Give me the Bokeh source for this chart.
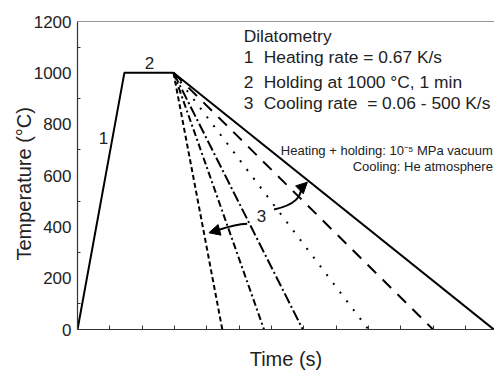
from bokeh.plotting import figure
from bokeh.models import Range1d, FixedTicker, Label, Span, Arrow, NormalHead, CustomJSTickFormatter
from bokeh.embed import file_html
from bokeh.resources import INLINE

# ---- data (time in arbitrary tick units, temperature in °C) ----
heat_hold_x = [0, 1.45, 2.97]
heat_hold_y = [0, 1000, 1000]
cool_start_x = 2.97
cool_start_y = 1000
cool_end_x = [4.48, 5.77, 6.97, 9.0, 11.0, 12.88]
cool_end_y = [0, 0, 0, 0, 0, 0]
cool_dash = ["5 3", "7 3 2 3", "11 3 2 3", "2 9", "12 9", "solid"]
y_ticks = [0, 200, 400, 600, 800, 1000, 1200]
x_ticks = list(range(0, 14))

legend_title = "Dilatometry"
legend_nums = ["1", "2", "3"]
legend_texts = ["Heating rate = 0.67 K/s", "Holding at 1000 \u00b0C, 1 min", "Cooling rate \u00a0= 0.06 - 500 K/s"]
note_texts = ["Heating + holding: 10\u207b\u2075 MPa vacuum", "Cooling: He atmosphere"]

FONT = "Liberation Sans"
TXT = "#222222"

p = figure(width=494, height=372, output_backend="svg", toolbar_location=None,
           x_range=Range1d(0, 12.9), y_range=Range1d(0, 1200),
           min_border_left=77, min_border_right=0, min_border_top=21, min_border_bottom=43)
p.outline_line_color = None
p.grid.grid_line_color = None
p.background_fill_color = "white"
p.border_fill_color = "white"

# axes
ya = p.yaxis[0]
ya.ticker = FixedTicker(ticks=y_ticks, minor_ticks=[100, 300, 500, 700, 900, 1100])
ya.major_tick_in = 0
ya.major_tick_out = 0
ya.minor_tick_in = 3
ya.minor_tick_out = 0
ya.major_label_standoff = 6
ya.major_label_text_font = FONT
ya.major_label_text_font_size = "17px"
ya.major_label_text_color = TXT
ya.axis_line_color = "#333333"
ya.axis_line_width = 1.2
ya.minor_tick_line_color = "#333333"
ya.axis_label = "Temperature (\u00b0C)\u00a0\u00a0\u00a0"
ya.axis_label_text_font = FONT
ya.axis_label_text_font_size = "20px"
ya.axis_label_text_font_style = "normal"
ya.axis_label_text_color = TXT
ya.axis_label_standoff = -4

xa = p.xaxis[0]
xa.ticker = FixedTicker(ticks=x_ticks)
xa.formatter = CustomJSTickFormatter(code="return ''")
xa.major_tick_in = 4
xa.major_tick_out = 0
xa.minor_tick_in = 0
xa.minor_tick_out = 0
xa.major_label_standoff = 0
xa.axis_line_color = "#333333"
xa.axis_line_width = 1.2
xa.major_tick_line_color = "#333333"
xa.axis_label = "Time (s)"
xa.axis_label_text_font = FONT
xa.axis_label_text_font_size = "20px"
xa.axis_label_text_font_style = "normal"
xa.axis_label_text_color = TXT
xa.axis_label_standoff = 18

p.add_layout(Span(location=1200, dimension="width", line_color="#333333", line_width=1.2))

# curves
p.line(heat_hold_x, heat_hold_y, line_color="black", line_width=2)
for ex, ey, d in zip(cool_end_x, cool_end_y, cool_dash):
    p.line([cool_start_x, ex], [cool_start_y, ey], line_color="black", line_width=2, line_dash=d)

# segment labels
for t, x, y in [("1", 0.80, 748), ("2", 2.23, 1040), ("3", 5.69, 444)]:
    p.add_layout(Label(x=x, y=y, text=t, text_font=FONT, text_font_size="17px", text_color=TXT,
                       text_align="center", text_baseline="middle"))

# legend block
p.add_layout(Label(x=5.14, y=1145, text=legend_title, text_font=FONT, text_font_size="17.4px",
                   text_color=TXT, text_align="left", text_baseline="middle"))
for num, txt, y in zip(legend_nums, legend_texts, [1060, 966, 884]):
    p.add_layout(Label(x=5.14, y=y, text=num, text_font=FONT, text_font_size="17.4px",
                       text_color=TXT, text_align="left", text_baseline="middle"))
    p.add_layout(Label(x=5.76, y=y, text=txt, text_font=FONT, text_font_size="17.4px",
                       text_color=TXT, text_align="left", text_baseline="middle"))
for txt, y in zip(note_texts, [697, 635]):
    p.add_layout(Label(x=12.85, y=y, text=txt, text_font=FONT, text_font_size="13px",
                       text_color=TXT, text_align="right", text_baseline="middle"))

# curved arrows
p.bezier(x0=[5.25, 6.08], y0=[412, 467.5], x1=[4.30, 6.93], y1=[385, 552],
         cx0=[4.80, 6.78], cy0=[409, 487], cx1=[4.55, 6.90], cy1=[395, 520],
         line_color="black", line_width=2)
p.add_layout(Arrow(x_start=4.30, y_start=385, x_end=4.065, y_end=377, line_width=0,
                   end=NormalHead(size=11, fill_color="black", line_color="black")))
p.add_layout(Arrow(x_start=6.93, y_start=552, x_end=7.11, y_end=574, line_width=0,
                   end=NormalHead(size=11, fill_color="black", line_color="black")))

open("out.html", "w").write(file_html(p, INLINE))
